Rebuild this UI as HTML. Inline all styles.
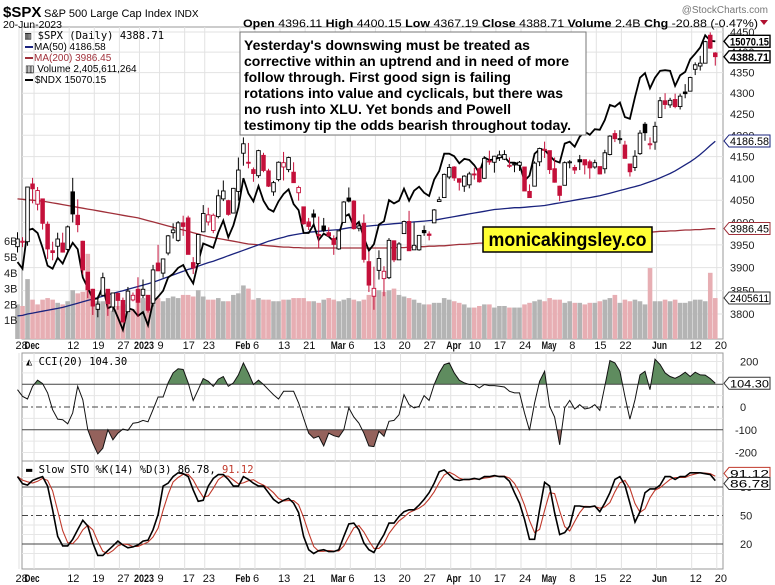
<!DOCTYPE html>
<html><head><meta charset="utf-8"><style>
html,body{margin:0;padding:0;background:#fff}
svg{display:block;font-family:"Liberation Sans",Arial,sans-serif}
</style></head><body>
<svg id="chart" width="775" height="585" viewBox="0 0 775 585" xmlns="http://www.w3.org/2000/svg">
<rect x="0" y="0" width="775" height="585" fill="#fff"/>
<g id="grid"></g>
<g id="vol"></g>
<g id="lines"></g>
<g id="candles"></g>
<g id="ind"></g>
<g id="axes"></g>
<text x="3" y="17" font-size="15" font-weight="bold">$SPX</text>
<text x="44" y="17" font-size="11">S&amp;P 500 Large Cap Index <tspan font-size="10">INDX</tspan></text>
<text x="3" y="28" font-size="10.5">20-Jun-2023</text>
<text x="768" y="13" font-size="10" fill="#777" text-anchor="end">@StockCharts.com</text>
<text x="243" y="27" font-size="11" textLength="515" lengthAdjust="spacingAndGlyphs"><tspan font-weight="bold">Open</tspan> 4396.11 <tspan font-weight="bold">High</tspan> 4400.15 <tspan font-weight="bold">Low</tspan> 4367.19 <tspan font-weight="bold">Close</tspan> 4388.71 <tspan font-weight="bold">Volume</tspan> 2.4B <tspan font-weight="bold">Chg</tspan> -20.88 (-0.47%)</text>
<polygon points="760,20 768,20 764,25" fill="#b01030"/>
<g font-size="10">
<text x="25" y="39" font-family="'DejaVu Sans Mono',monospace" font-size="10.5">▥ $SPX (Daily) 4388.71</text>
<line x1="25" y1="47" x2="33" y2="47" stroke="#1a237e" stroke-width="2"/><text x="34" y="50">MA(50) 4186.58</text>
<line x1="25" y1="58" x2="33" y2="58" stroke="#a0303a" stroke-width="2"/><text x="34" y="61" fill="#a0303a">MA(200) 3986.45</text>
<text x="25" y="72">▥ Volume 2,405,611,264</text>
<line x1="25" y1="80" x2="33" y2="80" stroke="#000" stroke-width="2"/><text x="35" y="83">$NDX 15070.15</text>
</g>
<g>
<rect x="240" y="32" width="346" height="103" fill="#fff" stroke="#777" stroke-width="1"/>
<g font-size="14" font-weight="bold">
<text x="244" y="50" textLength="286" lengthAdjust="spacingAndGlyphs">Yesterday's downswing must be treated as</text>
<text x="244" y="66" textLength="325" lengthAdjust="spacingAndGlyphs">corrective within an uptrend and in need of more</text>
<text x="244" y="82" textLength="267" lengthAdjust="spacingAndGlyphs">follow through. First good sign is failing</text>
<text x="244" y="98" textLength="319" lengthAdjust="spacingAndGlyphs">rotations into value and cyclicals, but there was</text>
<text x="244" y="114" textLength="267" lengthAdjust="spacingAndGlyphs">no rush into XLU. Yet bonds and Powell</text>
<text x="244" y="130" textLength="327" lengthAdjust="spacingAndGlyphs">testimony tip the odds bearish throughout today.</text>
</g></g>
<g>
<rect x="483" y="227" width="169" height="25" fill="#ffff33" stroke="#000" stroke-width="1.5"/>
<text x="567.5" y="246" font-size="19" font-weight="bold" text-anchor="middle" textLength="158" lengthAdjust="spacingAndGlyphs">monicakingsley.co</text>
</g>
<g id="tags"></g>
</svg>
<script>
const closes=[3963,3958,4080,4076,4072,3998,3941,3933,3963,3934,
3990,4019,3995,3895,3852,3817,3821,3878,3822,3845,
3829,3783,3849,3840,3825,3853,3808,3895,3893,3919,
3970,3983,3999,3991,3929,3899,3973,4020,4017,4016,
4060,4071,4018,4077,4119,4180,4136,4111,4164,4118,
4082,4090,4137,4136,4148,4090,4079,3997,3991,4012,
3970,3982,3970,3951,3981,4046,4048,3986,3992,3918,
3862,3855,3920,3892,3960,3917,3952,4002,3937,3949,
3971,3977,3971,4028,4051,4109,4125,4101,4091,4105,
4110,4108,4092,4146,4138,4151,4154,4155,4130,4133,
4137,4071,4056,4135,4169,4167,4120,4091,4061,4136,
4138,4119,4138,4131,4124,4136,4110,4159,4198,4192,
4192,4146,4115,4151,4205,4206,4180,4221,4282,4273,
4283,4268,4293,4299,4338,4369,4373,4426,4410,4389];
const opens=[3946,3956,3957,4087,4041,4053,3996,3937,3947,3954,
3940,4069,4016,3958,3890,3853,3810,3840,3853,3815,
3844,3829,3805,3830,3853,3840,3840,3823,3910,3888,
3932,3977,3960,3999,4010,3911,3909,3979,4001,3982,
4013,4053,4049,4021,4070,4158,4137,4120,4106,4153,
4117,4069,4097,4126,4120,4114,4067,4035,4001,4019,
3973,3992,3977,3964,3941,4000,4055,4048,3987,3998,
3913,3838,3894,3876,3878,3959,3917,3975,4002,3939,
3939,3982,3974,3999,4047,4056,4103,4126,4099,4082,
4085,4110,4122,4100,4140,4137,4148,4144,4130,4132,
4130,4126,4070,4082,4138,4166,4164,4122,4082,4084,
4136,4125,4143,4143,4138,4126,4127,4122,4155,4204,
4191,4177,4133,4125,4157,4226,4178,4184,4242,4282,
4272,4285,4268,4303,4305,4358,4366,4373,4442,4398];
const highs=[3978,3967,4080,4101,4080,4053,4002,3957,3977,3977,
3993,4101,4052,3959,3890,3854,3839,3889,3853,3846,
3846,3835,3858,3846,3879,3874,3840,3906,3950,3920,
3972,3998,4003,4015,4015,3923,3974,4039,4033,4020,
4074,4095,4051,4078,4148,4195,4182,4125,4166,4159,
4122,4094,4139,4161,4150,4137,4083,4025,4010,4029,
4013,4010,3989,3971,3982,4048,4079,4050,4000,4018,
3935,3902,3938,3903,3965,3960,3956,4004,4026,4000,
3972,3993,3980,4030,4058,4111,4133,4128,4100,4107,
4115,4124,4125,4151,4164,4152,4164,4165,4148,4135,
4140,4126,4086,4139,4171,4185,4164,4148,4083,4139,
4142,4131,4154,4143,4143,4143,4127,4166,4200,4212,
4212,4187,4134,4165,4212,4231,4195,4232,4291,4300,
4289,4299,4299,4322,4340,4375,4391,4428,4449,4400];
const lows=[3933,3945,3948,4043,4027,3984,3919,3916,3921,3933,
3936,4000,3978,3885,3834,3798,3793,3839,3796,3805,
3809,3783,3805,3827,3794,3834,3803,3816,3892,3878,
3927,3964,3957,3970,3929,3886,3906,3978,3993,3976,
4009,4048,4015,4020,4049,4129,4123,4092,4101,4114,
4080,4060,4093,4095,4114,4090,4049,3995,3983,3996,
3943,3978,3968,3928,3939,4000,4045,3984,3980,3911,
3847,3809,3874,3838,3875,3912,3917,3975,3937,3939,
3937,3970,3960,3999,4047,4056,4098,4094,4072,4069,
4077,4097,4090,4099,4131,4113,4140,4142,4124,4114,
4117,4071,4055,4082,4128,4147,4110,4090,4048,4084,
4123,4110,4119,4109,4099,4122,4109,4111,4153,4184,
4180,4146,4104,4117,4154,4187,4167,4166,4242,4262,
4265,4264,4261,4288,4305,4344,4355,4373,4408,4367];
const volumeB=[2.0,1.9,3.6,2.3,2.0,2.3,2.4,2.3,2.1,2.0,
2.2,2.9,2.7,2.8,5.2,2.6,2.2,2.2,2.2,1.6,
1.9,2.0,2.0,1.7,2.2,2.4,2.2,2.4,2.4,2.2,
2.4,2.5,2.4,2.6,2.6,2.5,2.9,2.5,2.3,2.3,
2.4,2.2,2.2,2.6,2.7,3.2,3.0,2.3,2.4,2.3,
2.3,2.2,2.2,2.3,2.3,2.4,2.4,2.4,2.2,2.2,
2.1,2.3,2.4,2.3,2.2,2.3,2.4,2.3,2.2,2.3,
2.6,2.8,2.9,2.8,2.9,3.0,2.6,2.5,2.4,2.3,
2.1,2.0,2.0,2.1,2.1,2.4,2.3,2.2,2.1,2.0,
1.8,1.8,1.9,2.0,2.0,1.8,1.9,1.9,1.8,1.8,
1.8,2.0,2.1,2.2,2.3,2.2,2.4,2.3,2.3,2.1,
2.2,2.1,2.1,2.0,2.1,2.1,2.2,2.3,2.4,2.6,
2.1,2.3,2.2,2.3,2.2,2.0,4.3,2.2,2.2,2.3,
2.2,2.3,2.1,2.1,2.2,2.3,2.3,2.2,4.0,2.4];
const ma50=[3796,3797,3800,3802,3804,3806,3808,3810,3812,3814,
3817,3820,3823,3826,3829,3832,3835,3838,3841,3844,
3847,3850,3853,3856,3859,3862,3865,3868,3872,3876,
3880,3884,3888,3892,3896,3899,3903,3907,3911,3914,
3918,3922,3926,3930,3934,3938,3942,3946,3950,3954,
3958,3961,3964,3967,3970,3972,3974,3976,3978,3979,
3980,3981,3982,3983,3984,3986,3988,3989,3990,3991,
3992,3993,3994,3995,3996,3997,3998,3999,4000,4001,
4002,4003,4004,4005,4007,4009,4011,4013,4015,4017,
4019,4021,4023,4025,4027,4029,4030,4031,4032,4033,
4033,4034,4035,4036,4037,4038,4040,4042,4044,4046,
4048,4050,4052,4054,4056,4058,4060,4063,4066,4069,
4072,4075,4078,4081,4084,4088,4092,4096,4101,4106,
4111,4117,4124,4131,4138,4146,4155,4165,4176,4186];
const ma200=[4053,4052,4051,4050,4049,4048,4046,4044,4042,4040,
4038,4036,4034,4032,4030,4028,4026,4024,4022,4020,
4018,4016,4014,4012,4010,4007,4004,4001,3998,3995,
3992,3989,3986,3983,3980,3977,3974,3971,3968,3966,
3964,3962,3960,3958,3956,3954,3952,3951,3950,3949,
3948,3947,3946,3945,3945,3944,3944,3943,3943,3943,
3943,3943,3943,3943,3943,3943,3943,3943,3943,3943,
3943,3943,3943,3943,3943,3944,3944,3944,3945,3945,
3946,3946,3947,3947,3948,3948,3949,3950,3951,3951,
3952,3953,3954,3954,3955,3956,3957,3957,3958,3959,
3959,3960,3961,3961,3962,3963,3963,3964,3965,3966,
3966,3967,3968,3968,3969,3970,3971,3971,3972,3973,
3974,3974,3975,3976,3977,3977,3978,3979,3980,3980,
3981,3981,3982,3983,3983,3984,3984,3985,3986,3986];
const ndx=[11580,11490,12030,12050,11990,11780,11530,11490,11640,11560,
11720,11850,11760,11370,11230,11080,11090,11250,10960,10990,
10840,10680,10960,10940,10860,10910,10740,11040,11110,11190,
11370,11420,11500,11540,11400,11290,11580,11840,11810,11780,
12000,12170,11930,12100,12360,12800,12570,12450,12680,12460,
12340,12300,12450,12560,12630,12410,12320,11990,11990,12110,
11890,11980,11940,11870,11960,12220,12260,12080,12150,11920,
11740,11830,12110,12160,12470,12420,12460,12640,12460,12610,
12670,12580,12530,12780,12910,13180,13180,13140,13030,13100,
13080,13000,12880,13120,13080,13090,13120,13130,13040,13040,
13010,12760,12840,13180,13250,13240,13150,13070,13040,13340,
13370,13290,13450,13530,13480,13570,13560,13720,13970,13940,
14010,13770,13740,14100,14430,14510,14250,14430,14550,14560,
14550,14290,14470,14530,14750,14850,14960,15180,15080,15070];
const cci=[76,47,35,91,118,103,62,-12,-53,-56,
-74,-26,91,32,-100,-159,-206,-181,-100,-144,
-115,-97,-103,-71,-68,-59,-65,-12,44,44,
106,150,168,165,106,29,76,125,113,91,
122,134,91,106,141,194,150,99,118,99,
76,54,35,69,69,69,18,-49,-115,-137,
-129,-171,-115,-126,-132,-100,-4,-44,-71,-115,
-171,-174,-107,-129,-63,-59,-34,54,10,-4,
3,50,29,99,150,187,194,150,118,106,
99,99,84,99,94,94,91,88,69,62,
62,-26,-103,18,113,157,3,-44,-166,-4,
29,-9,10,-9,-4,10,-15,91,204,194,
157,47,-53,32,141,157,76,210,187,150,
134,126,137,153,134,153,141,140,125,104.3];
const stoK=[91,83.5,82,87,89,91,81,56,28,18,
18,25,35,45,39,21,8,8,13,18,
23,19,16,17,19,23,24,35,51,81,
84,91,95,94,91,77,65,66,81,89,
93,93,88,81,81,91,88,84,81,81,
74,67,63,66,68,63,53,28,14,10,
13,14,12,12,14,28,41,42,35,21,
14,11,21,30,42,42,49,54,56,56,
61,67,74,84,96,98,93,88,87,88,
88,89,88,91,91,92,91,91,86,74,
63,46,25,25,56,85,81,53,30,32,
39,60,60,59,59,60,54,63,74,88,
91,82,63,43,54,74,78,78,82,91,
91,88,91,91,95,95,95,94,93,86.78];
const dateTicks=[0,3,10,15,20,24,28,33,37,44,47,52,57,63,66,71,76,81,86,90,95,100,105,110,115,120,127,134,139];
const dateLabels=["28","Dec","12","19","27","2023","9","17","23","Feb","6","13","21","Mar","6","13","20","27","Apr","10","17","24","May","8","15","22","Jun","12","20"];
const boldLabels=["Dec","2023","Feb","Mar","Apr","May","Jun"];
const priceTicks=[4450,4400,4350,4300,4250,4200,4150,4100,4050,4000,3950,3900,3850,3800];
const volTicks=[1,2,3,4,5,6];
const cciTicks=[200,100,0,-100,-200];
const stoTicks=[80,50,20];

const NS="http://www.w3.org/2000/svg";
function mk(parent,tag,attrs){const e=document.createElementNS(NS,tag);for(const k in attrs)e.setAttribute(k,attrs[k]);parent.appendChild(e);return e;}
const X0=17.5,STEP=5.02,PL=22,PR=723;
const xAt=i=>X0+i*STEP;
const LN_T=Math.log(4450),LN_R=Math.log(4450/3800);
const py=p=>32+282*(LN_T-Math.log(p))/LN_R;
const ny=v=>35+838*Math.log(15185/v);
const vy=v=>336-v*15.8;
const cy=v=>407-v*0.2275;
const sy=v=>487+(80-v)*0.95;
const grid=document.getElementById('grid'),volG=document.getElementById('vol'),linesG=document.getElementById('lines'),candG=document.getElementById('candles'),indG=document.getElementById('ind'),axes=document.getElementById('axes'),tags=document.getElementById('tags');

const panels=[[27,339,'price-panel'],[353,461,'cci-panel'],[461,569,'stochastic-panel']];
panels.forEach(p=>{
  const r=mk(grid,'rect',{x:PL,y:p[0],width:PR-PL,height:p[1]-p[0],fill:'#fff',stroke:'#999','stroke-width':1});
  
  
});
dateTicks.forEach(i=>{
  const x=xAt(i)+1.5;
  panels.forEach(p=>{
    const l=mk(grid,'line',{x1:x,y1:p[0],x2:x,y2:p[1],stroke:'#e2e2e2','stroke-width':1});
    
    
  });
});
priceTicks.forEach(p=>{
  const y=py(p);
  const l=mk(grid,'line',{x1:PL,y1:y,x2:PR,y2:y,stroke:'#e2e2e2'});
  
  
  const t=mk(axes,'text',{x:730,y:y+4,'font-size':11,fill:'#222'});t.textContent=p;
  
  
});
volTicks.forEach(v=>{
  const t=mk(axes,'text',{x:4,y:vy(v)+4,'font-size':11,fill:'#222'});t.textContent=v+'B';
  
  
});
[150,50,-50,-150,200,-200].forEach(v=>{
  const l=mk(grid,'line',{x1:PL,y1:cy(v),x2:PR,y2:cy(v),stroke:'#e6e6e6'});
  
  
});
[10,30,40,60,70,90].forEach(v=>{
  const l=mk(grid,'line',{x1:PL,y1:sy(v),x2:PR,y2:sy(v),stroke:'#e6e6e6'});
  
  
});
cciTicks.forEach(v=>{
  if(v!==100){const t=mk(axes,'text',{x:v<0?735:740,y:cy(v)+4,'font-size':11,fill:'#222'});t.textContent=v;
  
  }
});
stoTicks.forEach(v=>{
  const t=mk(axes,'text',{x:740,y:sy(v)+4,'font-size':11,fill:'#222'});t.textContent=v;
  
  
});
[349,582].forEach((yy,k)=>{
  dateTicks.forEach((i,j)=>{
    const lab=dateLabels[j];
    const b=boldLabels.includes(lab);
    let x=xAt(i)-0.5;
    const attrs={y:yy,'font-size':11,fill:'#111'};
    if(b){
      attrs['font-weight']='bold';
      attrs.lengthAdjust='spacingAndGlyphs';
      if(lab==='Dec'){x=xAt(i)-8;attrs.textLength=15;}
      else if(lab==='2023'){x=xAt(i)-4;attrs.textLength=20;}
      else {x=xAt(i)-3;attrs.textLength=15;}
    }
    if(lab==='28')x=xAt(i)-2;
    attrs.x=x;
    const t=mk(axes,'text',attrs);
    t.textContent=lab;
    
    
  });
});
volumeB.forEach((v,i)=>{
  const down=i>0&&closes[i]<closes[i-1];
  const r=mk(volG,'rect',{x:xAt(i)-2.3,y:vy(v),width:4.6,height:336-vy(v)+3,fill:down?'#e7aeb3':'#b4b4b4'});
  
  
});
function path(arr,fx,fy){return arr.map((v,i)=>(i?'L':'M')+fx(i).toFixed(1)+','+fy(v).toFixed(1)).join('');}
const m200=mk(linesG,'path',{d:path(ma200,xAt,py),fill:'none',stroke:'#a0303a','stroke-width':1.3});


const m50=mk(linesG,'path',{d:path(ma50,xAt,py),fill:'none',stroke:'#1a237e','stroke-width':1.3});


const nl=mk(linesG,'path',{d:path(ndx,xAt,ny),fill:'none',stroke:'#000','stroke-width':1.8});


closes.forEach((c,i)=>{
  const o=opens[i],x=xAt(i);
  const red=i>0&&c<closes[i-1];
  const col=red?'#c4103a':'#000';
  const w=mk(candG,'line',{x1:x,y1:py(highs[i]),x2:x,y2:py(lows[i]),stroke:col,'stroke-width':1});
  
  
  const top=py(Math.max(o,c)),bot=py(Math.min(o,c));
  const b=mk(candG,'rect',{x:x-1.8,y:top,width:3.6,height:Math.max(1,bot-top),fill:c<o?col:'#fff',stroke:col,'stroke-width':0.9});
  
  
});
const defs=mk(indG,'defs',{});
const cpA=mk(defs,'clipPath',{id:'cciAbove'});mk(cpA,'rect',{x:PL,y:353,width:PR-PL,height:cy(100)-353});
const cpB=mk(defs,'clipPath',{id:'cciBelow'});mk(cpB,'rect',{x:PL,y:cy(-100),width:PR-PL,height:461-cy(-100)});
const cciLine=path(cci,xAt,cy);
const lastX=xAt(cci.length-1).toFixed(1);
const fa=mk(indG,'path',{d:cciLine+'L'+lastX+','+cy(100)+'L'+xAt(0)+','+cy(100)+'Z',fill:'#5f8c5f','clip-path':'url(#cciAbove)'});


const fb=mk(indG,'path',{d:cciLine+'L'+lastX+','+cy(-100)+'L'+xAt(0)+','+cy(-100)+'Z',fill:'#94625c','clip-path':'url(#cciBelow)'});


[[100,''],[-100,''],[0,'6,3,2,3']].forEach(r=>{
  const l=mk(indG,'line',{x1:PL,y1:cy(r[0]),x2:PR,y2:cy(r[0]),stroke:'#444','stroke-width':1,'stroke-dasharray':r[1]});
  
  
});
const cl=mk(indG,'path',{d:cciLine,fill:'none',stroke:'#111','stroke-width':1});


[[80,''],[20,''],[50,'6,3,2,3']].forEach(r=>{
  const l=mk(indG,'line',{x1:PL,y1:sy(r[0]),x2:PR,y2:sy(r[0]),stroke:'#444','stroke-width':1,'stroke-dasharray':r[1]});
  
  
});
const stoD=stoK.map((v,i)=>{const a=stoK.slice(Math.max(0,i-2),i+1);return a.reduce((s,x)=>s+x,0)/a.length;});
const dl=mk(indG,'path',{d:path(stoD,xAt,sy),fill:'none',stroke:'#c0392b','stroke-width':1.1});


const kl=mk(indG,'path',{d:path(stoK,xAt,sy),fill:'none',stroke:'#000','stroke-width':1.6});


const t1=mk(indG,'text',{x:26,y:365,'font-size':10.5,'font-family':"'DejaVu Sans Mono',monospace"});t1.textContent='◭ CCI(20) 104.30';


const t2=mk(indG,'text',{x:26,y:473,'font-size':10.5,'font-family':"'DejaVu Sans Mono',monospace"});
t2.innerHTML='▬ Slow STO %K(14) %D(3) 86.78, <tspan fill="#c0392b">91.12</tspan>';


function tag(y,txt,stroke,bold,name){
  const g=mk(tags,'g',{});
  
  
  mk(g,'path',{d:`M724,${y} L729,${y-6} L770,${y-6} L770,${y+6} L729,${y+6} Z`,fill:'#fff',stroke:stroke,'stroke-width':bold?1.4:1});
  const t=mk(g,'text',{x:730,y:y+4,'font-size':11,'font-weight':bold?'bold':'normal',textLength:39,lengthAdjust:'spacingAndGlyphs'});t.textContent=txt;
}
tag(ny(15070.15),'15070.15','#000',true,'ndx-value-tag');
tag(py(4388.71),'4388.71','#000',true,'spx-value-tag');
tag(py(4186.58),'4186.58','#1a237e',false,'ma50-value-tag');
tag(py(3986.45),'3986.45','#a0303a',false,'ma200-value-tag');
tag(vy(2.405611),'2405611','#333',false,'volume-value-tag');
tag(cy(104.3),'104.30','#333',false,'cci-value-tag');
tag(sy(91.12)-3,'91.12','#c0392b',false,'sto-d-value-tag');
tag(sy(86.78)+3,'86.78','#333',false,'sto-k-value-tag');
</script>
</body></html>
